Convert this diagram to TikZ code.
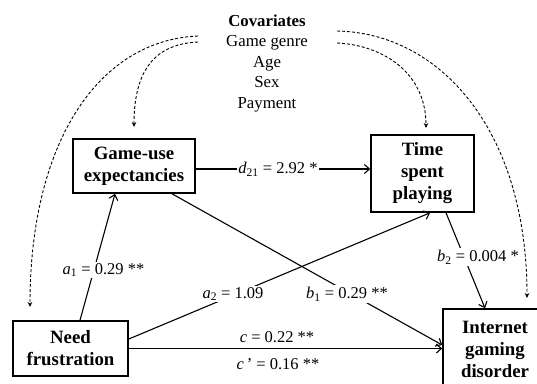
\documentclass[tikz,border=0pt]{standalone}
\usepackage{fontspec}
\setmainfont{Liberation Serif}
\usetikzlibrary{arrows.meta}
\begin{document}
\begin{tikzpicture}[x=1pt,y=-1pt,
  box/.style={draw, line width=1.6pt, align=center, inner sep=0pt, font=\bfseries\fontsize{18.8}{22}\selectfont},
  lbl/.style={fill=white, inner sep=1.5pt, font=\fontsize{16.5}{19}\selectfont},
  patharrow/.style={line width=1.1pt, -{Straight Barb[length=5pt,width=9pt]}},
  covarrow/.style={line width=0.9pt, dash pattern=on 3pt off 2pt, -{Stealth[length=5pt,width=4.5pt]}}]
\useasboundingbox (0,0) rectangle (537,383);
\clip (0,0) rectangle (537,383);

% boxes
\node[box, minimum width=122pt, minimum height=54pt] (gue) at (134,166) {Game-use\\expectancies};
\node[box, minimum width=103pt, minimum height=77pt] (tsp) at (422.5,173.5) {Time\\spent\\playing};
\node[box, minimum width=115pt, minimum height=55pt] (need) at (70.5,348.5) {Need\\frustration};
\node[box, minimum width=104pt, minimum height=80pt] (igd) at (495,349) {Internet\\gaming\\disorder};

% covariates
\node[align=center, font=\fontsize{16.8}{20.5}\selectfont] (cov) at (267,63) {\textbf{Covariates}\\Game genre\\Age\\Sex\\Payment};

\coordinate (cl1) at (198,36);
\coordinate (cl2) at (198,42);
\coordinate (cr1) at (337,31);
\coordinate (cr2) at (337,43);
\coordinate (el1) at (30,307);
\coordinate (el2) at (134,127);
\coordinate (er2) at (426,128);
\coordinate (er1) at (527,298);

\draw[covarrow] (cl1) .. controls (100,40) and (30,140) .. (el1);
\draw[covarrow] (cl2) .. controls (155,44) and (134,70) .. (el2);
\draw[covarrow] (cr2) .. controls (382,45) and (426,72) .. (er2);
\draw[covarrow] (cr1) .. controls (440,33) and (527,130) .. (er1);

% paths
\coordinate (dd) at ([yshift=-3pt]gue.east);
\draw[patharrow] (dd) -- (dd -| tsp.west);
\draw[patharrow] ([xshift=9.5pt]need.north) -- ([xshift=-19pt]gue.south);
\draw[patharrow] ([xshift=38pt]gue.south) -- ([yshift=4pt]igd.west);
\draw[patharrow] ([yshift=9.5pt]need.east) -- ([xshift=7.5pt]tsp.south);
\draw[patharrow] ([xshift=23.5pt]tsp.south) -- ([xshift=-10pt]igd.north);
\draw[patharrow] (need.east) -- (need.east -| igd.west);

% labels
\node[lbl] (ld) at (278,169) {\textit{d}\textsubscript{21} = 2.92 *};
\node[lbl] (la1) at (103.5,270) {\textit{a}\textsubscript{1} = 0.29 **};
\node[lbl] (la2) at (233,294) {\textit{a}\textsubscript{2} = 1.09};
\node[lbl] (lb1) at (347,294) {\textit{b}\textsubscript{1} = 0.29 **};
\node[lbl] (lb2) at (478,257) {\textit{b}\textsubscript{2} = 0.004 *};
\node[lbl, fill=none] (lc) at (277,337) {\textit{c} = 0.22 **};
\node[lbl, fill=none] (lcp) at (278,364) {\textit{c}\,' = 0.16 **};
\end{tikzpicture}
\end{document}
